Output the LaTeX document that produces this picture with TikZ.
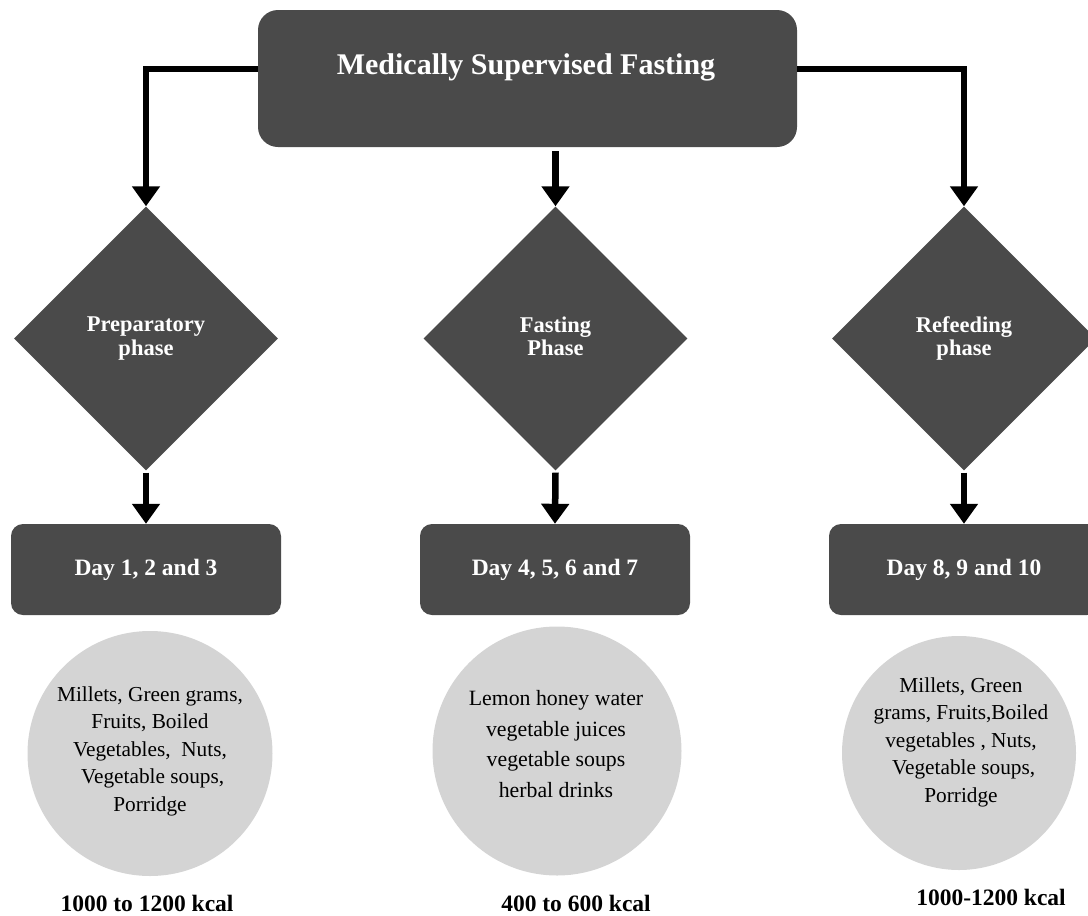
\documentclass[tikz,border=0pt]{standalone}
\usepackage{fontspec}
\setmainfont{Liberation Serif}
\usetikzlibrary{shapes.geometric,arrows.meta,calc}
\definecolor{dark}{HTML}{4A4A4A}
\definecolor{light}{HTML}{D4D4D4}
\begin{document}
\begin{tikzpicture}[x=1pt,y=-1pt,
  topbox/.style={fill=dark, rounded corners=20pt, inner sep=0pt, minimum width=539pt, minimum height=137pt},
  daybox/.style={fill=dark, rounded corners=12pt, inner sep=0pt, minimum width=270pt, minimum height=91pt, text=white, font=\fontsize{23.5}{27}\selectfont\bfseries},
  phase/.style={diamond, aspect=1, fill=dark, inner sep=0pt, minimum width=264pt, minimum height=264pt, text=white, align=center, font=\fontsize{22.5}{23.5}\selectfont\bfseries},
  food/.style={circle, fill=light, inner sep=0pt},
  foodtext/.style={align=center, inner sep=0pt, font=\fontsize{21.3}{27.5}\selectfont},
  kcal/.style={inner sep=0pt, font=\fontsize{23.5}{27}\selectfont\bfseries},
  conn/.style={line width=6.5pt, -{Triangle[width=27pt,length=20pt]}},
]
\useasboundingbox (0,0) rectangle (1088,916);
\clip (0,0) rectangle (1088,916);

% top
\node[topbox] (top) at (527.5,78.5) {};
\node[inner sep=0pt, text=white, font=\fontsize{30}{34}\selectfont\bfseries] (title) at (526,67) {Medically Supervised Fasting};

% diamonds
\node[phase] (d1) at (146,338.5) {Preparatory\\phase};
\node[phase] (d2) at (555.5,338.5) {Fasting\\Phase\vphantom{p}};
\node[phase] (d3) at (964,338.5) {Refeeding\\phase};

% day boxes
\node[daybox] (b1) at (146,569.5) {Day 1, 2 and 3};
\node[daybox] (b2) at (555,569.5) {Day 4, 5, 6 and 7};
\node[daybox] (b3) at (964,569.5) {Day 8, 9 and 10};

% circles
\node[food, minimum size=245pt] (c1) at (150,753.5) {};
\node[food, minimum size=249pt] (c2) at (557,751) {};
\node[food, minimum size=234pt] (c3) at (959,753) {};

\node[foodtext] (t1) at (150,751) {Millets, Green grams,\\Fruits, Boiled\\Vegetables,\ \ Nuts,\\\ Vegetable soups,\\Porridge};
\node[foodtext, font=\fontsize{21.8}{30.5}\selectfont] (t2) at (556,744) {Lemon honey water\\vegetable juices\\vegetable soups\\herbal drinks};
\node[foodtext] (t3) at (961,742) {Millets, Green\\grams, Fruits,Boiled\\vegetables , Nuts,\\\ Vegetable soups,\\Porridge};

% kcal labels
\node[kcal] (k1) at (147,903) {1000 to 1200 kcal};
\node[kcal] (k2) at (576,903) {400 to 600 kcal};
\node[kcal] (k3) at (991,897) {1000-1200 kcal};

% connectors
\draw[conn] ([yshift=9.5pt]top.west) -| (d1.north);
\draw[conn] ([yshift=9.5pt]top.east) -| (d3.north);
\draw[conn] ($(d2.north |- top.south)+(0,4)$) -- (d2.north);
\draw[conn] ([yshift=-2pt]d1.south) -- (b1.north);
\draw[conn] ([yshift=-2pt]d2.south) -- (b2.north);
\draw[conn] ([yshift=-2pt]d3.south) -- (b3.north);
\end{tikzpicture}
\end{document}
